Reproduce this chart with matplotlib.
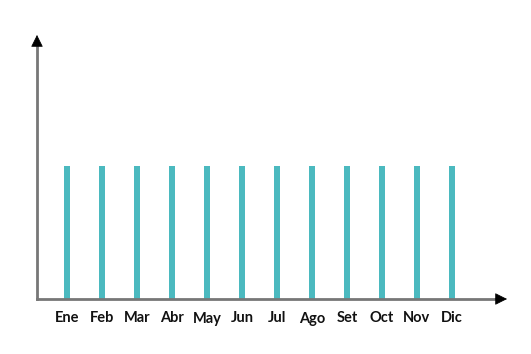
import matplotlib.pyplot as plt

months = ["Ene", "Feb", "Mar", "Abr", "May", "Jun", "Jul", "Ago", "Set", "Oct", "Nov", "Dic"]
values = [1, 1, 1, 1, 1, 1, 1, 1, 1, 1, 1, 1]

W, H = 531, 354
fig = plt.figure(figsize=(W / 100, H / 100), dpi=100)
# axes box: x from 37px to 507px, y from 35px to 299px (top-down)
ax = fig.add_axes([37 / W, (H - 299) / H, (507 - 37) / W, (299 - 35) / H])

x = list(range(len(months)))
ax.bar(x, values, width=0.18, color="#4bb9bf")

ax.set_xlim(-30 / 35, 440 / 35)
ax.set_ylim(0, 264 / 133)

for s in ax.spines.values():
    s.set_visible(False)
ax.set_yticks([])
ax.set_xticks(x)
ax.set_xticklabels(months, fontfamily="Lato", fontweight="bold", fontsize=10.5, color="#111111")
ax.tick_params(axis="x", length=0, pad=9)

# axis lines (gray) with black arrow heads
ax.plot([0, 0.985], [0, 0], transform=ax.transAxes, color="#777777", lw=2, clip_on=False)
ax.plot([0, 0], [0, 0.975], transform=ax.transAxes, color="#777777", lw=2, clip_on=False)
head = dict(arrowstyle="-|>", color="black", lw=0.5, mutation_scale=19,
            shrinkA=0, shrinkB=0)
ax.annotate("", xy=(1, 0), xytext=(0.975, 0), xycoords="axes fraction",
            arrowprops=head, annotation_clip=False)
ax.annotate("", xy=(0, 1), xytext=(0, 0.96), xycoords="axes fraction",
            arrowprops=head, annotation_clip=False)

fig.savefig("out.png", dpi=100)
